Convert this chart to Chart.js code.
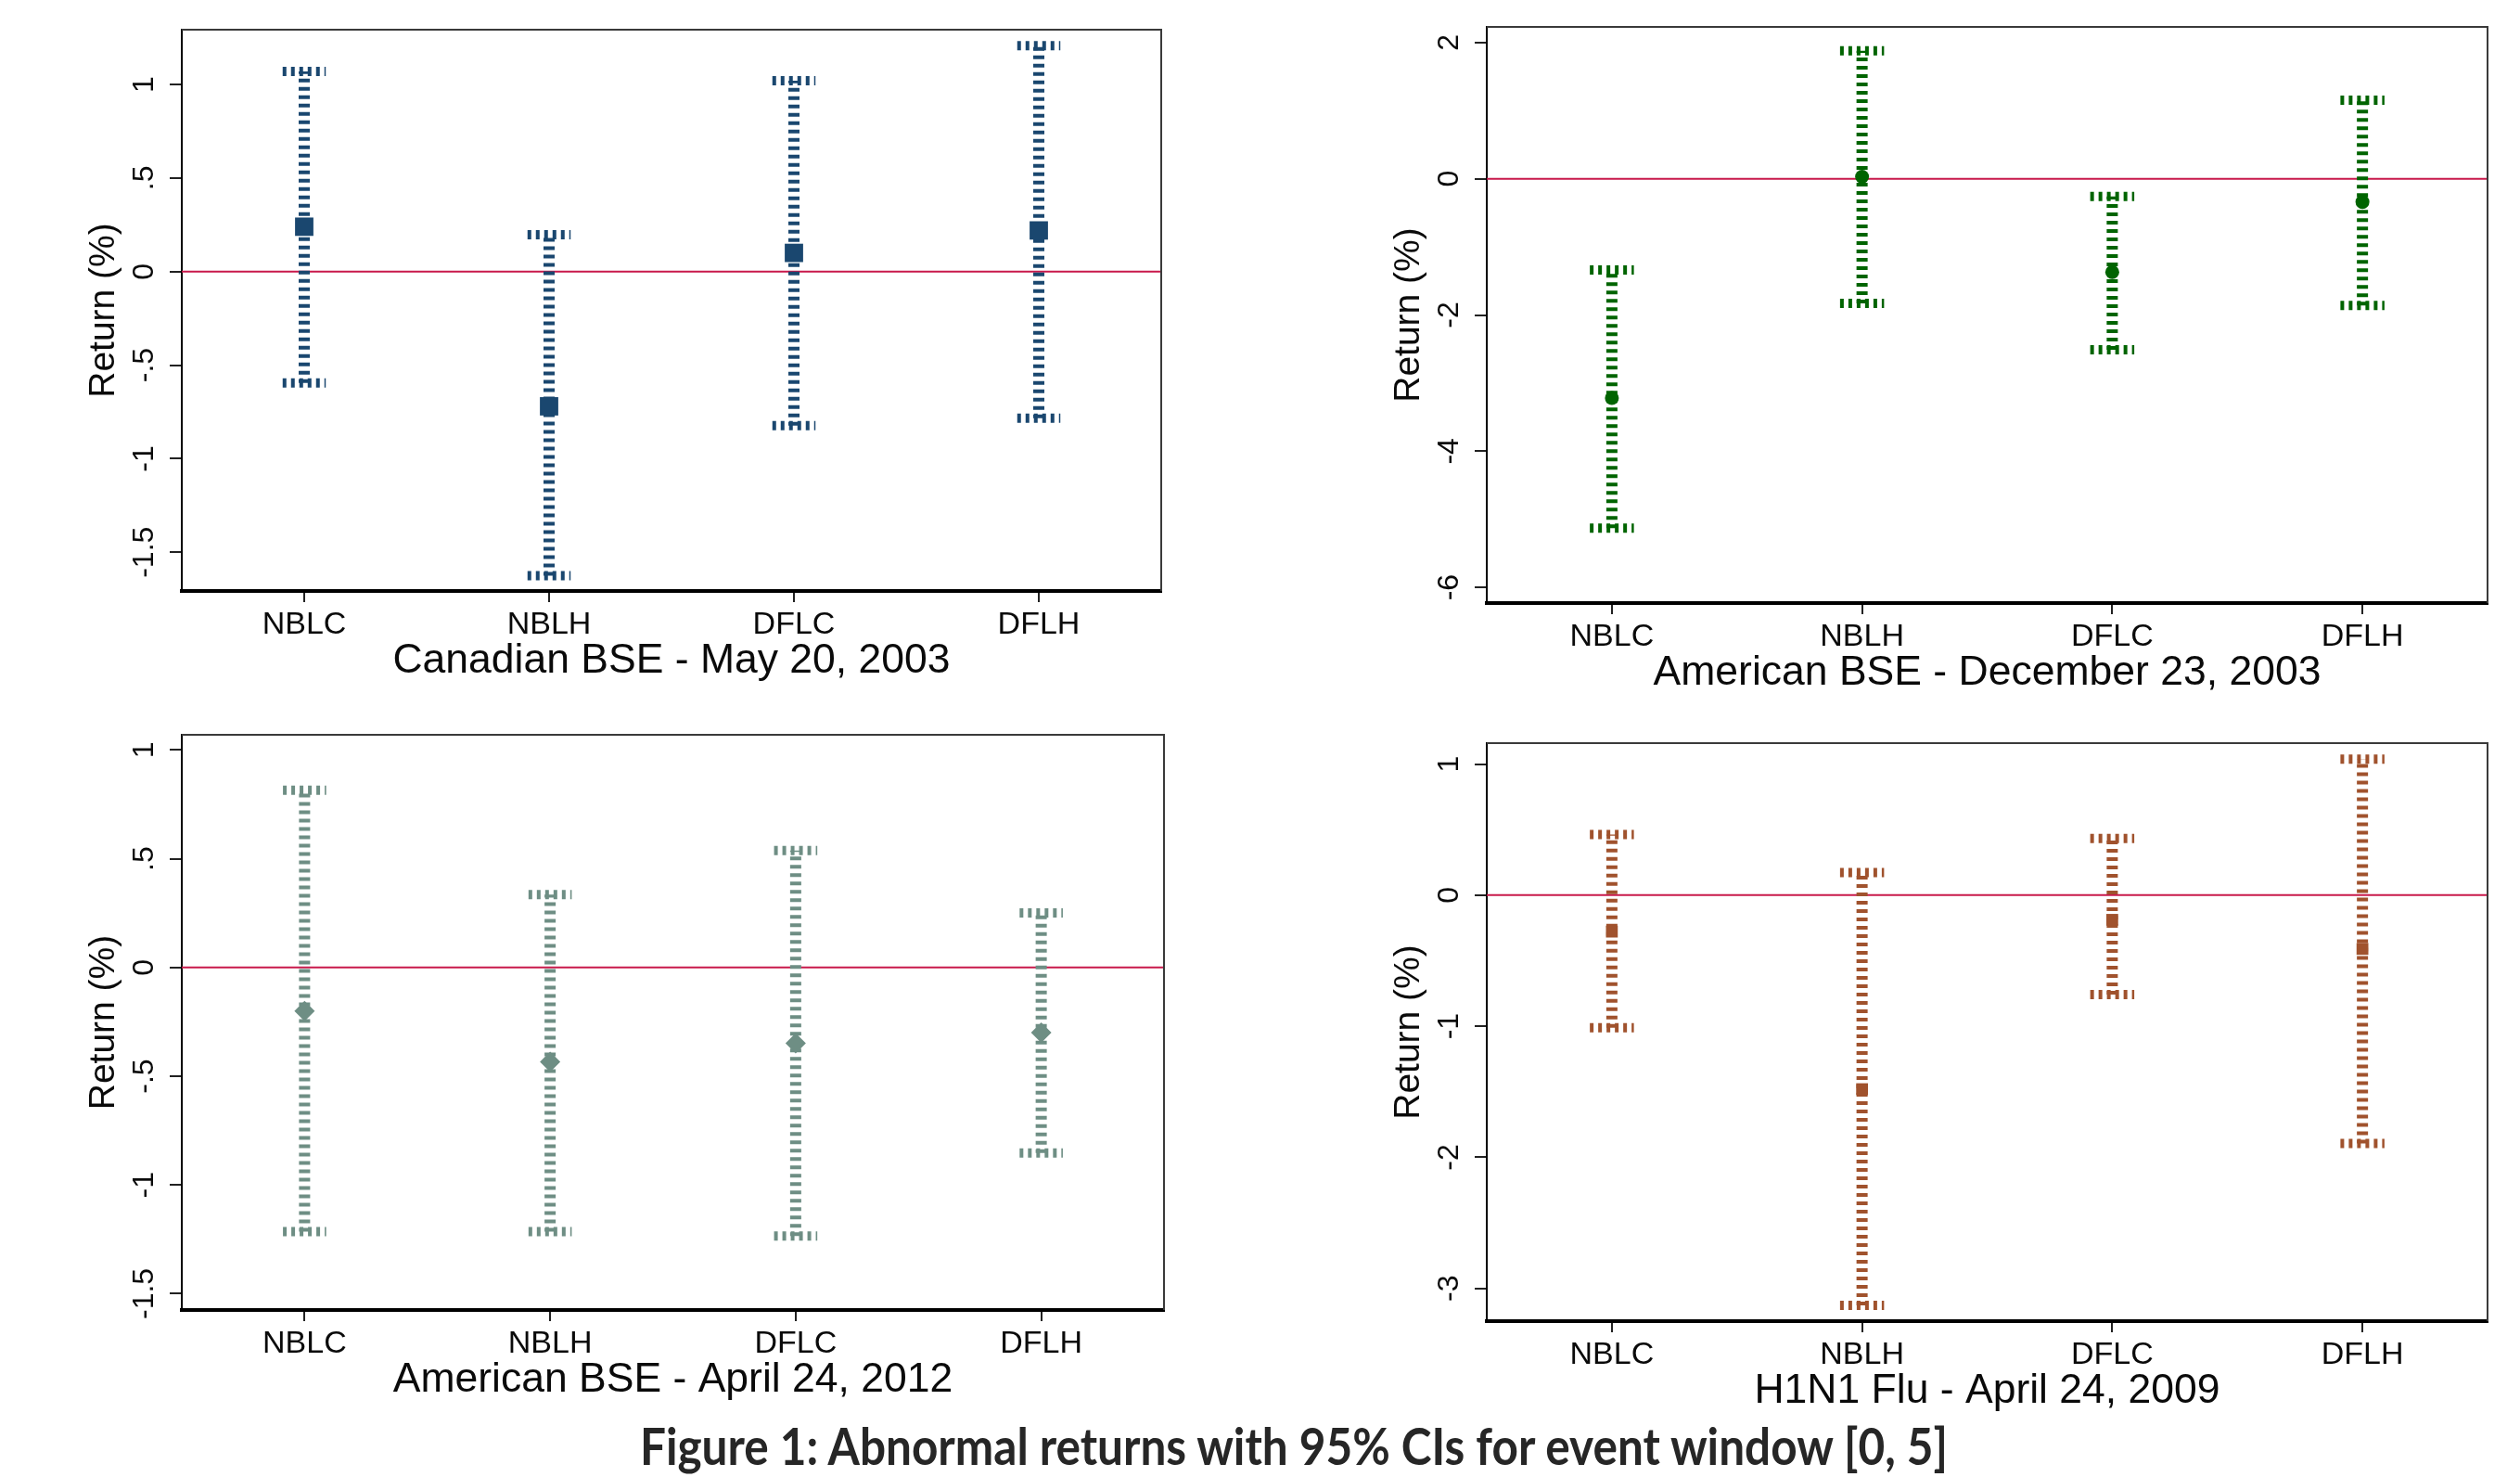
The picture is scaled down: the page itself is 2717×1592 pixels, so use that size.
<!DOCTYPE html>
<html>
<head>
<meta charset="utf-8">
<script src="https://cdn.jsdelivr.net/npm/chart.js@4.4.1/dist/chart.umd.min.js"></script>
<style>
body { margin: 0; background: #fff; width: 2717px; height: 1592px; position: relative; overflow: hidden; }
canvas { position: absolute; }
#caption { position: absolute; left: 0; width: 2790px; top: 1524px; line-height: 68px; text-align: center;
  font-family: Lato, "Open Sans", sans-serif; font-weight: bold; font-size: 55px; color: #262626;
  transform: scaleX(0.9); transform-origin: 1395px 0; }
</style>
</head>
<body>
<canvas id="c1" width="1200" height="729" style="left:66px;top:18px"></canvas>
<canvas id="c2" width="1219" height="741" style="left:1473px;top:19px"></canvas>
<canvas id="c3" width="1200" height="741" style="left:66px;top:781px"></canvas>
<canvas id="c4" width="1219" height="743" style="left:1473px;top:791px"></canvas>
<div id="caption">Figure 1: Abnormal returns with 95% CIs for event window [0, 5]</div>
<script>
var categories = ['NBLC', 'NBLH', 'DFLC', 'DFLH'];

// Canadian BSE - May 20, 2003
var canMean = [0.24, -0.72, 0.10, 0.22];
var canLow = [-0.595, -1.625, -0.823, -0.783];
var canHigh = [1.07, 0.197, 1.02, 1.208];
var canTicks = [-1.5, -1, -0.5, 0, 0.5, 1];
var canTickLabels = ['-1.5', '-1', '-.5', '0', '.5', '1'];
var canRange = [-1.707, 1.293];

// American BSE - December 23, 2003
var decMean = [-3.22, 0.03, -1.37, -0.34];
var decLow = [-5.13, -1.83, -2.51, -1.86];
var decHigh = [-1.34, 1.88, -0.26, 1.155];
var decTicks = [-6, -4, -2, 0, 2];
var decTickLabels = ['-6', '-4', '-2', '0', '2'];
var decRange = [-6.23, 2.23];

// American BSE - April 24, 2012
var aprMean = [-0.20, -0.434, -0.348, -0.299];
var aprLow = [-1.215, -1.215, -1.235, -0.853];
var aprHigh = [0.815, 0.335, 0.538, 0.251];
var aprTicks = [-1.5, -1, -0.5, 0, 0.5, 1];
var aprTickLabels = ['-1.5', '-1', '-.5', '0', '.5', '1'];
var aprRange = [-1.575, 1.07];

// H1N1 Flu - April 24, 2009
var fluMean = [-0.278, -1.48, -0.188, -0.41];
var fluLow = [-1.011, -3.13, -0.759, -1.895];
var fluHigh = [0.462, 0.173, 0.432, 1.038];
var fluTicks = [-3, -2, -1, 0, 1];
var fluTickLabels = ['-3', '-2', '-1', '0', '1'];
var fluRange = [-3.25, 1.16];

var FONT = '"Liberation Sans", Arial, sans-serif';
var CAP_HALF = 0.088;   // cap half width, in x units
var ZERO_COLOR = '#c8194b';
var TEXT = '#0a0a0a';

var framePlugin = {
	id: 'frame',
	afterDraw: function(chart, args, o) {
		var a = chart.chartArea, ctx = chart.ctx, ys = chart.scales.y;
		ctx.save();
		ctx.strokeStyle = '#3a3a3a';
		ctx.lineWidth = 2;
		ctx.beginPath();
		ctx.moveTo(a.left, a.top);
		ctx.lineTo(a.right, a.top);
		ctx.lineTo(a.right, a.bottom);
		ctx.stroke();
		// y tick labels, turned like Stata does
		ctx.fillStyle = TEXT;
		ctx.font = '32px ' + FONT;
		ctx.textAlign = 'center';
		ctx.textBaseline = 'middle';
		o.labels.forEach(function(t, i) {
			ctx.save();
			ctx.translate(a.left - 40, ys.getPixelForValue(o.values[i]));
			ctx.rotate(-Math.PI / 2);
			ctx.fillText(t, 0, 0);
			ctx.restore();
		});
		ctx.restore();
	}
};

function makeChart(id, p) {
	var ds = [];
	// means first so they end up on top
	ds.push({
		data: categories.map(function(c, i) { return {x: i + 1, y: p.mean[i]}; }),
		pointStyle: p.marker,
		pointRadius: p.radius,
		backgroundColor: p.color,
		borderColor: p.color,
		borderWidth: 0
	});
	categories.forEach(function(c, i) {
		var line = {showLine: true, pointRadius: 0, borderColor: p.color, borderCapStyle: 'butt'};
		ds.push(Object.assign({}, line, {
			data: [{x: i + 1, y: p.low[i]}, {x: i + 1, y: p.high[i]}],
			borderWidth: 12, borderDash: [4, 5]
		}));
		ds.push(Object.assign({}, line, {
			data: [{x: i + 1 - CAP_HALF, y: p.high[i]}, {x: i + 1 + CAP_HALF, y: p.high[i]}],
			borderWidth: 10, borderDash: [4, 5]
		}));
		ds.push(Object.assign({}, line, {
			data: [{x: i + 1 - CAP_HALF, y: p.low[i]}, {x: i + 1 + CAP_HALF, y: p.low[i]}],
			borderWidth: 10, borderDash: [4, 5]
		}));
	});
	// zero line
	ds.push({
		data: [{x: 0.5, y: 0}, {x: 4.5, y: 0}],
		showLine: true, pointRadius: 0, borderColor: ZERO_COLOR, borderWidth: 2
	});

	return new Chart(document.getElementById(id), {
		type: 'scatter',
		data: {datasets: ds},
		options: {
			responsive: false,
			animation: false,
			events: [],
			layout: {padding: {top: 10, right: 10, left: 0, bottom: 0}},
			plugins: {
				legend: {display: false},
				tooltip: {enabled: false},
				frame: {values: p.ticks, labels: p.tickLabels}
			},
			scales: {
				x: {
					type: 'linear', min: 0.5, max: 4.5,
					afterBuildTicks: function(s) { s.ticks = categories.map(function(c, i) { return {value: i + 1}; }); },
					afterFit: function(s) { s.height = 110; },
					ticks: {
						callback: function(v) { return categories[v - 1]; },
						font: {family: FONT, size: 34}, color: TEXT, padding: 4, maxRotation: 0, autoSkip: false
					},
					grid: {drawOnChartArea: false, drawTicks: true, tickLength: 12, color: '#222', lineWidth: 2},
					border: {display: true, color: '#000', width: 4},
					title: {display: true, text: p.title, font: {family: FONT, size: 44.5}, color: TEXT, padding: {top: 0, bottom: 8}}
				},
				y: {
					type: 'linear', min: p.range[0], max: p.range[1],
					afterBuildTicks: function(s) { s.ticks = p.ticks.map(function(v) { return {value: v}; }); },
					afterFit: function(s) { s.width = 130; },
					ticks: {display: false},
					grid: {drawOnChartArea: false, drawTicks: true, tickLength: 13, color: '#222', lineWidth: 2},
					border: {display: true, color: '#000', width: 2},
					title: {display: true, text: 'Return (%)', font: {family: FONT, size: 39}, color: TEXT, padding: {top: 23, bottom: 0}}
				}
			}
		},
		plugins: [framePlugin]
	});
}

makeChart('c1', {mean: canMean, low: canLow, high: canHigh, ticks: canTicks, tickLabels: canTickLabels, range: canRange,
	color: '#1a476f', marker: 'rect', radius: 14, title: 'Canadian BSE - May 20, 2003'});
makeChart('c2', {mean: decMean, low: decLow, high: decHigh, ticks: decTicks, tickLabels: decTickLabels, range: decRange,
	color: '#006400', marker: 'circle', radius: 7.5, title: 'American BSE - December 23, 2003'});
makeChart('c3', {mean: aprMean, low: aprLow, high: aprHigh, ticks: aprTicks, tickLabels: aprTickLabels, range: aprRange,
	color: '#6e8e84', marker: 'rectRot', radius: 11, title: 'American BSE - April 24, 2012'});
makeChart('c4', {mean: fluMean, low: fluLow, high: fluHigh, ticks: fluTicks, tickLabels: fluTickLabels, range: fluRange,
	color: '#a0522d', marker: 'rect', radius: 9, title: 'H1N1 Flu - April 24, 2009'});
</script>
</body>
</html>
